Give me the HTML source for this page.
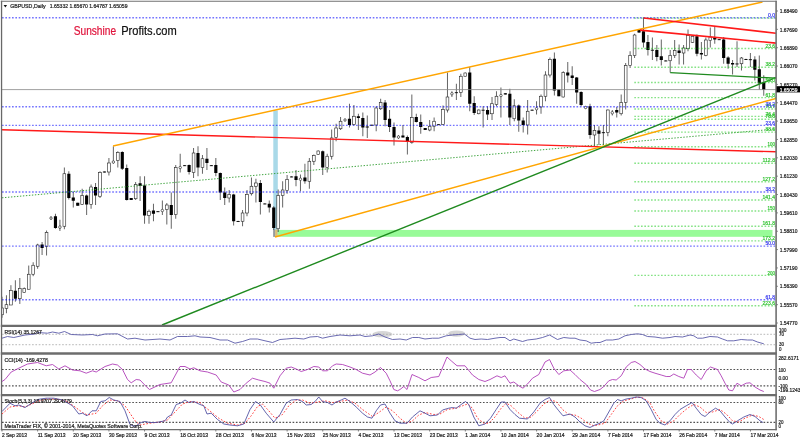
<!DOCTYPE html><html><head><meta charset="utf-8"><title>GBPUSD Daily</title><style>html,body{margin:0;padding:0;background:#fff;overflow:hidden}body{width:800px;height:440px}</style></head><body><svg width="800" height="440" viewBox="0 0 800 440" style="display:block;will-change:transform;opacity:0.999;font-family:'Liberation Sans',sans-serif">
<defs><clipPath id="cm"><rect x="1.5" y="1.5" width="774.5" height="324.5"/></clipPath><clipPath id="c1"><rect x="1.5" y="327" width="774.5" height="26"/></clipPath><clipPath id="c2"><rect x="1.5" y="354" width="774.5" height="41"/></clipPath><clipPath id="c3"><rect x="1.5" y="396" width="774.5" height="33.5"/></clipPath></defs>
<rect width="800" height="440" fill="#fff"/>
<g clip-path="url(#cm)">
<rect x="277.4" y="229.9" width="495.1" height="6.9" fill="#98fb98"/>
<rect x="273.3" y="110.5" width="4.5" height="126.5" fill="#a9d9e8"/>
<rect x="273.2" y="229.6" width="2" height="7.2" fill="#9a9a9a"/>
<rect x="275.2" y="229.6" width="2.4" height="7.2" fill="#dcc070"/>
<line x1="2.00" x2="2.00" y1="296.75" y2="317.75" stroke="#222" stroke-width="0.7"/>
<rect x="0.62" y="308.00" width="2.75" height="6.75" fill="#fff" stroke="#222" stroke-width="0.6"/>
<line x1="6.45" x2="6.45" y1="295.25" y2="313.25" stroke="#222" stroke-width="0.7"/>
<rect x="5.08" y="304.70" width="2.75" height="3.60" fill="#fff" stroke="#222" stroke-width="0.6"/>
<line x1="10.91" x2="10.91" y1="285.20" y2="305.00" stroke="#222" stroke-width="0.7"/>
<rect x="9.53" y="290.45" width="2.75" height="14.55" fill="#fff" stroke="#222" stroke-width="0.6"/>
<line x1="15.36" x2="15.36" y1="280.25" y2="301.70" stroke="#222" stroke-width="0.7"/>
<rect x="13.79" y="290.75" width="3.15" height="7.95" fill="#000"/>
<line x1="19.82" x2="19.82" y1="278.00" y2="303.95" stroke="#222" stroke-width="0.7"/>
<rect x="18.44" y="288.50" width="2.75" height="10.20" fill="#fff" stroke="#222" stroke-width="0.6"/>
<line x1="24.27" x2="24.27" y1="287.45" y2="292.55" stroke="#222" stroke-width="0.7"/>
<rect x="22.90" y="288.50" width="2.75" height="4.05" fill="#fff" stroke="#222" stroke-width="0.6"/>
<line x1="28.73" x2="28.73" y1="265.55" y2="289.25" stroke="#222" stroke-width="0.7"/>
<rect x="27.35" y="274.25" width="2.75" height="15.00" fill="#fff" stroke="#222" stroke-width="0.6"/>
<line x1="33.18" x2="33.18" y1="262.25" y2="276.20" stroke="#222" stroke-width="0.7"/>
<rect x="31.81" y="265.25" width="2.75" height="9.00" fill="#fff" stroke="#222" stroke-width="0.6"/>
<line x1="37.64" x2="37.64" y1="243.75" y2="268.75" stroke="#222" stroke-width="0.7"/>
<rect x="36.26" y="245.00" width="2.75" height="21.25" fill="#fff" stroke="#222" stroke-width="0.6"/>
<line x1="42.09" x2="42.09" y1="242.00" y2="255.00" stroke="#222" stroke-width="0.7"/>
<rect x="40.52" y="244.50" width="3.15" height="3.50" fill="#000"/>
<line x1="46.55" x2="46.55" y1="230.50" y2="255.50" stroke="#222" stroke-width="0.7"/>
<rect x="45.17" y="232.50" width="2.75" height="13.75" fill="#fff" stroke="#222" stroke-width="0.6"/>
<line x1="51.00" x2="51.00" y1="216.25" y2="220.00" stroke="#222" stroke-width="0.7"/>
<ellipse cx="51.00" cy="218.12" rx="1.25" ry="1.12" fill="#fff" stroke="#222" stroke-width="0.65"/>
<line x1="55.46" x2="55.46" y1="213.75" y2="228.75" stroke="#222" stroke-width="0.7"/>
<rect x="53.88" y="216.25" width="3.15" height="11.75" fill="#000"/>
<line x1="59.91" x2="59.91" y1="219.75" y2="231.00" stroke="#222" stroke-width="0.7"/>
<ellipse cx="59.91" cy="227.12" rx="1.25" ry="1.38" fill="#fff" stroke="#222" stroke-width="0.65"/>
<line x1="64.37" x2="64.37" y1="167.50" y2="229.25" stroke="#222" stroke-width="0.7"/>
<rect x="62.99" y="173.75" width="2.75" height="52.50" fill="#fff" stroke="#222" stroke-width="0.6"/>
<line x1="68.82" x2="68.82" y1="171.25" y2="199.50" stroke="#222" stroke-width="0.7"/>
<rect x="67.25" y="173.75" width="3.15" height="24.25" fill="#000"/>
<line x1="73.28" x2="73.28" y1="192.00" y2="207.50" stroke="#222" stroke-width="0.7"/>
<rect x="71.70" y="197.50" width="3.15" height="3.25" fill="#000"/>
<line x1="77.73" x2="77.73" y1="202.75" y2="205.75" stroke="#222" stroke-width="0.7"/>
<rect x="76.15" y="202.75" width="3.15" height="3.00" fill="#000"/>
<line x1="82.18" x2="82.18" y1="188.75" y2="205.00" stroke="#222" stroke-width="0.7"/>
<rect x="80.81" y="195.50" width="2.75" height="9.00" fill="#fff" stroke="#222" stroke-width="0.6"/>
<line x1="86.64" x2="86.64" y1="194.50" y2="215.00" stroke="#222" stroke-width="0.7"/>
<rect x="85.06" y="195.50" width="3.15" height="9.00" fill="#000"/>
<line x1="91.09" x2="91.09" y1="184.50" y2="208.75" stroke="#222" stroke-width="0.7"/>
<rect x="89.72" y="187.00" width="2.75" height="17.50" fill="#fff" stroke="#222" stroke-width="0.6"/>
<line x1="95.55" x2="95.55" y1="183.00" y2="205.00" stroke="#222" stroke-width="0.7"/>
<rect x="93.97" y="187.00" width="3.15" height="8.50" fill="#000"/>
<line x1="100.00" x2="100.00" y1="171.25" y2="198.00" stroke="#222" stroke-width="0.7"/>
<rect x="98.63" y="172.50" width="2.75" height="23.75" fill="#fff" stroke="#222" stroke-width="0.6"/>
<line x1="104.46" x2="104.46" y1="171.50" y2="172.50" stroke="#222" stroke-width="0.7"/>
<rect x="102.88" y="171.50" width="3.15" height="1.00" fill="#000"/>
<line x1="108.91" x2="108.91" y1="158.00" y2="175.50" stroke="#222" stroke-width="0.7"/>
<rect x="107.54" y="163.00" width="2.75" height="9.00" fill="#fff" stroke="#222" stroke-width="0.6"/>
<line x1="113.37" x2="113.37" y1="146.25" y2="163.75" stroke="#222" stroke-width="0.7"/>
<ellipse cx="113.37" cy="162.00" rx="1.25" ry="1.25" fill="#fff" stroke="#222" stroke-width="0.65"/>
<line x1="117.82" x2="117.82" y1="151.25" y2="167.50" stroke="#222" stroke-width="0.7"/>
<rect x="116.45" y="152.50" width="2.75" height="8.00" fill="#fff" stroke="#222" stroke-width="0.6"/>
<line x1="122.28" x2="122.28" y1="151.25" y2="170.00" stroke="#222" stroke-width="0.7"/>
<rect x="120.70" y="152.00" width="3.15" height="16.75" fill="#000"/>
<line x1="126.73" x2="126.73" y1="164.50" y2="200.50" stroke="#222" stroke-width="0.7"/>
<rect x="125.16" y="168.00" width="3.15" height="32.00" fill="#000"/>
<line x1="131.19" x2="131.19" y1="198.00" y2="200.00" stroke="#222" stroke-width="0.7"/>
<rect x="129.61" y="198.00" width="3.15" height="2.00" fill="#000"/>
<line x1="135.64" x2="135.64" y1="182.00" y2="200.00" stroke="#222" stroke-width="0.7"/>
<rect x="134.27" y="184.50" width="2.75" height="14.25" fill="#fff" stroke="#222" stroke-width="0.6"/>
<line x1="140.10" x2="140.10" y1="176.25" y2="201.00" stroke="#222" stroke-width="0.7"/>
<rect x="138.52" y="183.25" width="3.15" height="2.75" fill="#000"/>
<line x1="144.55" x2="144.55" y1="176.25" y2="223.75" stroke="#222" stroke-width="0.7"/>
<rect x="142.98" y="185.50" width="3.15" height="30.00" fill="#000"/>
<line x1="149.01" x2="149.01" y1="209.50" y2="223.75" stroke="#222" stroke-width="0.7"/>
<rect x="147.63" y="211.25" width="2.75" height="4.25" fill="#fff" stroke="#222" stroke-width="0.6"/>
<line x1="153.46" x2="153.46" y1="203.75" y2="221.25" stroke="#222" stroke-width="0.7"/>
<rect x="151.88" y="210.50" width="3.15" height="3.25" fill="#000"/>
<line x1="157.91" x2="157.91" y1="211.25" y2="212.00" stroke="#222" stroke-width="0.7"/>
<rect x="156.34" y="211.25" width="3.15" height="0.90" fill="#000"/>
<line x1="162.37" x2="162.37" y1="200.50" y2="215.00" stroke="#222" stroke-width="0.7"/>
<ellipse cx="162.37" cy="210.50" rx="1.25" ry="1.25" fill="#fff" stroke="#222" stroke-width="0.65"/>
<line x1="166.82" x2="166.82" y1="203.00" y2="224.50" stroke="#222" stroke-width="0.7"/>
<rect x="165.45" y="205.00" width="2.75" height="4.50" fill="#fff" stroke="#222" stroke-width="0.6"/>
<line x1="171.28" x2="171.28" y1="192.50" y2="228.75" stroke="#222" stroke-width="0.7"/>
<rect x="169.70" y="205.00" width="3.15" height="10.00" fill="#000"/>
<line x1="175.73" x2="175.73" y1="165.00" y2="218.75" stroke="#222" stroke-width="0.7"/>
<rect x="174.36" y="167.50" width="2.75" height="47.00" fill="#fff" stroke="#222" stroke-width="0.6"/>
<line x1="180.19" x2="180.19" y1="153.75" y2="172.50" stroke="#222" stroke-width="0.7"/>
<ellipse cx="180.19" cy="167.50" rx="1.25" ry="1.25" fill="#fff" stroke="#222" stroke-width="0.65"/>
<line x1="184.64" x2="184.64" y1="165.00" y2="166.00" stroke="#222" stroke-width="0.7"/>
<rect x="183.07" y="165.25" width="3.15" height="0.90" fill="#000"/>
<line x1="189.10" x2="189.10" y1="164.50" y2="174.50" stroke="#222" stroke-width="0.7"/>
<rect x="187.52" y="165.00" width="3.15" height="7.00" fill="#000"/>
<line x1="193.55" x2="193.55" y1="148.00" y2="178.00" stroke="#222" stroke-width="0.7"/>
<rect x="192.18" y="153.00" width="2.75" height="19.50" fill="#fff" stroke="#222" stroke-width="0.6"/>
<line x1="198.01" x2="198.01" y1="146.25" y2="176.25" stroke="#222" stroke-width="0.7"/>
<rect x="196.43" y="153.00" width="3.15" height="14.50" fill="#000"/>
<line x1="202.46" x2="202.46" y1="155.00" y2="173.75" stroke="#222" stroke-width="0.7"/>
<rect x="201.09" y="158.75" width="2.75" height="8.75" fill="#fff" stroke="#222" stroke-width="0.6"/>
<line x1="206.92" x2="206.92" y1="148.00" y2="170.00" stroke="#222" stroke-width="0.7"/>
<rect x="205.34" y="158.75" width="3.15" height="4.25" fill="#000"/>
<line x1="211.37" x2="211.37" y1="165.00" y2="166.00" stroke="#222" stroke-width="0.7"/>
<rect x="209.80" y="165.25" width="3.15" height="0.90" fill="#000"/>
<line x1="215.83" x2="215.83" y1="158.00" y2="176.25" stroke="#222" stroke-width="0.7"/>
<rect x="214.25" y="165.00" width="3.15" height="8.00" fill="#000"/>
<line x1="220.28" x2="220.28" y1="172.50" y2="200.00" stroke="#222" stroke-width="0.7"/>
<rect x="218.71" y="173.00" width="3.15" height="19.50" fill="#000"/>
<line x1="224.73" x2="224.73" y1="187.50" y2="205.00" stroke="#222" stroke-width="0.7"/>
<rect x="223.16" y="192.50" width="3.15" height="5.50" fill="#000"/>
<line x1="229.19" x2="229.19" y1="190.00" y2="202.50" stroke="#222" stroke-width="0.7"/>
<rect x="227.81" y="194.50" width="2.75" height="3.50" fill="#fff" stroke="#222" stroke-width="0.6"/>
<line x1="233.64" x2="233.64" y1="193.75" y2="225.50" stroke="#222" stroke-width="0.7"/>
<rect x="232.07" y="194.50" width="3.15" height="26.75" fill="#000"/>
<line x1="238.10" x2="238.10" y1="220.75" y2="221.75" stroke="#222" stroke-width="0.7"/>
<rect x="236.52" y="221.00" width="3.15" height="0.90" fill="#000"/>
<line x1="242.55" x2="242.55" y1="210.00" y2="226.25" stroke="#222" stroke-width="0.7"/>
<rect x="241.18" y="213.00" width="2.75" height="8.25" fill="#fff" stroke="#222" stroke-width="0.6"/>
<line x1="247.01" x2="247.01" y1="190.00" y2="216.25" stroke="#222" stroke-width="0.7"/>
<rect x="245.63" y="194.50" width="2.75" height="18.50" fill="#fff" stroke="#222" stroke-width="0.6"/>
<line x1="251.46" x2="251.46" y1="177.50" y2="195.50" stroke="#222" stroke-width="0.7"/>
<rect x="250.09" y="186.25" width="2.75" height="7.50" fill="#fff" stroke="#222" stroke-width="0.6"/>
<line x1="255.92" x2="255.92" y1="178.75" y2="202.50" stroke="#222" stroke-width="0.7"/>
<rect x="254.54" y="183.00" width="2.75" height="3.25" fill="#fff" stroke="#222" stroke-width="0.6"/>
<line x1="260.37" x2="260.37" y1="180.00" y2="214.50" stroke="#222" stroke-width="0.7"/>
<rect x="258.80" y="183.00" width="3.15" height="19.00" fill="#000"/>
<line x1="264.83" x2="264.83" y1="203.25" y2="204.25" stroke="#222" stroke-width="0.7"/>
<rect x="263.25" y="203.50" width="3.15" height="0.90" fill="#000"/>
<line x1="269.28" x2="269.28" y1="200.50" y2="212.50" stroke="#222" stroke-width="0.7"/>
<rect x="267.71" y="203.75" width="3.15" height="3.75" fill="#000"/>
<line x1="273.74" x2="273.74" y1="206.25" y2="230.00" stroke="#222" stroke-width="0.7"/>
<rect x="272.16" y="207.50" width="3.15" height="20.50" fill="#000"/>
<line x1="278.19" x2="278.19" y1="189.50" y2="232.00" stroke="#222" stroke-width="0.7"/>
<rect x="276.82" y="195.50" width="2.75" height="33.25" fill="#fff" stroke="#222" stroke-width="0.6"/>
<line x1="282.65" x2="282.65" y1="181.25" y2="207.50" stroke="#222" stroke-width="0.7"/>
<rect x="281.27" y="190.00" width="2.75" height="5.50" fill="#fff" stroke="#222" stroke-width="0.6"/>
<line x1="287.10" x2="287.10" y1="175.00" y2="193.75" stroke="#222" stroke-width="0.7"/>
<rect x="285.73" y="179.50" width="2.75" height="11.00" fill="#fff" stroke="#222" stroke-width="0.6"/>
<line x1="291.56" x2="291.56" y1="176.25" y2="177.25" stroke="#222" stroke-width="0.7"/>
<rect x="289.98" y="176.50" width="3.15" height="0.90" fill="#000"/>
<line x1="296.01" x2="296.01" y1="170.00" y2="186.25" stroke="#222" stroke-width="0.7"/>
<rect x="294.44" y="176.25" width="3.15" height="3.75" fill="#000"/>
<line x1="300.46" x2="300.46" y1="174.50" y2="191.25" stroke="#222" stroke-width="0.7"/>
<ellipse cx="300.46" cy="179.25" rx="1.25" ry="1.25" fill="#fff" stroke="#222" stroke-width="0.65"/>
<line x1="304.92" x2="304.92" y1="163.75" y2="183.75" stroke="#222" stroke-width="0.7"/>
<rect x="303.34" y="177.50" width="3.15" height="3.75" fill="#000"/>
<line x1="309.37" x2="309.37" y1="158.00" y2="188.75" stroke="#222" stroke-width="0.7"/>
<rect x="308.00" y="161.25" width="2.75" height="20.00" fill="#fff" stroke="#222" stroke-width="0.6"/>
<line x1="313.83" x2="313.83" y1="154.50" y2="165.00" stroke="#222" stroke-width="0.7"/>
<rect x="312.45" y="155.50" width="2.75" height="5.75" fill="#fff" stroke="#222" stroke-width="0.6"/>
<line x1="318.28" x2="318.28" y1="150.50" y2="154.75" stroke="#222" stroke-width="0.7"/>
<rect x="316.91" y="151.00" width="2.75" height="3.50" fill="#fff" stroke="#222" stroke-width="0.6"/>
<line x1="322.74" x2="322.74" y1="150.50" y2="175.00" stroke="#222" stroke-width="0.7"/>
<rect x="321.16" y="151.25" width="3.15" height="16.25" fill="#000"/>
<line x1="327.19" x2="327.19" y1="153.75" y2="172.50" stroke="#222" stroke-width="0.7"/>
<rect x="325.82" y="156.25" width="2.75" height="11.25" fill="#fff" stroke="#222" stroke-width="0.6"/>
<line x1="331.65" x2="331.65" y1="129.50" y2="159.50" stroke="#222" stroke-width="0.7"/>
<rect x="330.27" y="138.00" width="2.75" height="18.25" fill="#fff" stroke="#222" stroke-width="0.6"/>
<line x1="336.10" x2="336.10" y1="123.75" y2="141.25" stroke="#222" stroke-width="0.7"/>
<rect x="334.73" y="128.00" width="2.75" height="9.50" fill="#fff" stroke="#222" stroke-width="0.6"/>
<line x1="340.56" x2="340.56" y1="117.00" y2="130.00" stroke="#222" stroke-width="0.7"/>
<rect x="339.18" y="121.25" width="2.75" height="7.50" fill="#fff" stroke="#222" stroke-width="0.6"/>
<line x1="345.01" x2="345.01" y1="118.50" y2="121.50" stroke="#222" stroke-width="0.7"/>
<ellipse cx="345.01" cy="120.00" rx="1.25" ry="1.10" fill="#fff" stroke="#222" stroke-width="0.65"/>
<line x1="349.47" x2="349.47" y1="103.75" y2="127.50" stroke="#222" stroke-width="0.7"/>
<rect x="347.89" y="118.75" width="3.15" height="6.25" fill="#000"/>
<line x1="353.92" x2="353.92" y1="105.00" y2="125.50" stroke="#222" stroke-width="0.7"/>
<rect x="352.55" y="116.25" width="2.75" height="8.25" fill="#fff" stroke="#222" stroke-width="0.6"/>
<line x1="358.38" x2="358.38" y1="113.75" y2="130.00" stroke="#222" stroke-width="0.7"/>
<rect x="356.80" y="116.25" width="3.15" height="1.75" fill="#000"/>
<line x1="362.83" x2="362.83" y1="112.50" y2="136.25" stroke="#222" stroke-width="0.7"/>
<rect x="361.26" y="118.00" width="3.15" height="9.50" fill="#000"/>
<line x1="367.29" x2="367.29" y1="115.50" y2="138.00" stroke="#222" stroke-width="0.7"/>
<rect x="365.71" y="126.50" width="3.15" height="1.00" fill="#000"/>
<line x1="371.74" x2="371.74" y1="124.75" y2="125.50" stroke="#222" stroke-width="0.7"/>
<rect x="370.17" y="124.75" width="3.15" height="0.90" fill="#000"/>
<line x1="376.19" x2="376.19" y1="106.25" y2="131.25" stroke="#222" stroke-width="0.7"/>
<rect x="374.82" y="108.00" width="2.75" height="17.00" fill="#fff" stroke="#222" stroke-width="0.6"/>
<line x1="380.65" x2="380.65" y1="98.75" y2="110.00" stroke="#222" stroke-width="0.7"/>
<rect x="379.27" y="102.50" width="2.75" height="6.25" fill="#fff" stroke="#222" stroke-width="0.6"/>
<line x1="385.10" x2="385.10" y1="100.00" y2="126.25" stroke="#222" stroke-width="0.7"/>
<rect x="383.53" y="102.50" width="3.15" height="17.50" fill="#000"/>
<line x1="389.56" x2="389.56" y1="110.00" y2="132.00" stroke="#222" stroke-width="0.7"/>
<rect x="387.98" y="118.75" width="3.15" height="8.25" fill="#000"/>
<line x1="394.01" x2="394.01" y1="122.50" y2="145.50" stroke="#222" stroke-width="0.7"/>
<rect x="392.44" y="127.00" width="3.15" height="10.50" fill="#000"/>
<line x1="398.47" x2="398.47" y1="135.00" y2="139.00" stroke="#222" stroke-width="0.7"/>
<ellipse cx="398.47" cy="137.00" rx="1.25" ry="1.25" fill="#fff" stroke="#222" stroke-width="0.65"/>
<line x1="402.92" x2="402.92" y1="125.00" y2="137.50" stroke="#222" stroke-width="0.7"/>
<rect x="401.35" y="135.50" width="3.15" height="2.00" fill="#000"/>
<line x1="407.38" x2="407.38" y1="135.50" y2="154.50" stroke="#222" stroke-width="0.7"/>
<rect x="405.80" y="137.00" width="3.15" height="5.00" fill="#000"/>
<line x1="411.83" x2="411.83" y1="94.50" y2="143.75" stroke="#222" stroke-width="0.7"/>
<rect x="410.46" y="117.50" width="2.75" height="25.00" fill="#fff" stroke="#222" stroke-width="0.6"/>
<line x1="416.29" x2="416.29" y1="113.75" y2="122.50" stroke="#222" stroke-width="0.7"/>
<rect x="414.71" y="117.00" width="3.15" height="5.00" fill="#000"/>
<line x1="420.74" x2="420.74" y1="114.50" y2="133.75" stroke="#222" stroke-width="0.7"/>
<rect x="419.17" y="122.00" width="3.15" height="5.00" fill="#000"/>
<line x1="425.20" x2="425.20" y1="128.00" y2="130.00" stroke="#222" stroke-width="0.7"/>
<rect x="423.62" y="128.00" width="3.15" height="2.00" fill="#000"/>
<line x1="429.65" x2="429.65" y1="120.00" y2="131.25" stroke="#222" stroke-width="0.7"/>
<rect x="428.28" y="126.25" width="2.75" height="3.75" fill="#fff" stroke="#222" stroke-width="0.6"/>
<line x1="434.11" x2="434.11" y1="117.50" y2="131.25" stroke="#222" stroke-width="0.7"/>
<rect x="432.73" y="121.25" width="2.75" height="5.00" fill="#fff" stroke="#222" stroke-width="0.6"/>
<line x1="438.56" x2="438.56" y1="124.25" y2="125.00" stroke="#222" stroke-width="0.7"/>
<rect x="436.99" y="124.25" width="3.15" height="0.90" fill="#000"/>
<line x1="443.02" x2="443.02" y1="105.50" y2="125.00" stroke="#222" stroke-width="0.7"/>
<rect x="441.64" y="109.50" width="2.75" height="15.00" fill="#fff" stroke="#222" stroke-width="0.6"/>
<line x1="447.47" x2="447.47" y1="72.50" y2="112.50" stroke="#222" stroke-width="0.7"/>
<rect x="446.09" y="97.00" width="2.75" height="13.00" fill="#fff" stroke="#222" stroke-width="0.6"/>
<line x1="451.92" x2="451.92" y1="91.25" y2="97.00" stroke="#222" stroke-width="0.7"/>
<ellipse cx="451.92" cy="93.75" rx="1.25" ry="1.25" fill="#fff" stroke="#222" stroke-width="0.65"/>
<line x1="456.38" x2="456.38" y1="83.75" y2="100.00" stroke="#222" stroke-width="0.7"/>
<rect x="454.80" y="92.25" width="3.15" height="0.90" fill="#000"/>
<line x1="460.83" x2="460.83" y1="73.75" y2="97.00" stroke="#222" stroke-width="0.7"/>
<rect x="459.46" y="76.25" width="2.75" height="16.25" fill="#fff" stroke="#222" stroke-width="0.6"/>
<line x1="465.29" x2="465.29" y1="72.50" y2="76.25" stroke="#222" stroke-width="0.7"/>
<rect x="463.91" y="73.00" width="2.75" height="3.25" fill="#fff" stroke="#222" stroke-width="0.6"/>
<line x1="469.74" x2="469.74" y1="67.00" y2="111.25" stroke="#222" stroke-width="0.7"/>
<rect x="468.17" y="72.50" width="3.15" height="31.25" fill="#000"/>
<line x1="474.20" x2="474.20" y1="96.25" y2="115.00" stroke="#222" stroke-width="0.7"/>
<rect x="472.62" y="103.00" width="3.15" height="10.00" fill="#000"/>
<line x1="478.65" x2="478.65" y1="109.50" y2="114.25" stroke="#222" stroke-width="0.7"/>
<rect x="477.28" y="110.00" width="2.75" height="3.75" fill="#fff" stroke="#222" stroke-width="0.6"/>
<line x1="483.11" x2="483.11" y1="106.25" y2="127.50" stroke="#222" stroke-width="0.7"/>
<rect x="481.53" y="109.75" width="3.15" height="0.90" fill="#000"/>
<line x1="487.56" x2="487.56" y1="106.25" y2="120.00" stroke="#222" stroke-width="0.7"/>
<rect x="485.99" y="110.00" width="3.15" height="4.50" fill="#000"/>
<line x1="492.02" x2="492.02" y1="97.00" y2="120.00" stroke="#222" stroke-width="0.7"/>
<rect x="490.64" y="103.75" width="2.75" height="10.00" fill="#fff" stroke="#222" stroke-width="0.6"/>
<line x1="496.47" x2="496.47" y1="91.25" y2="106.25" stroke="#222" stroke-width="0.7"/>
<rect x="495.10" y="96.25" width="2.75" height="8.25" fill="#fff" stroke="#222" stroke-width="0.6"/>
<line x1="500.93" x2="500.93" y1="87.50" y2="117.50" stroke="#222" stroke-width="0.7"/>
<ellipse cx="500.93" cy="95.50" rx="1.25" ry="1.25" fill="#fff" stroke="#222" stroke-width="0.65"/>
<line x1="505.38" x2="505.38" y1="93.00" y2="94.50" stroke="#222" stroke-width="0.7"/>
<rect x="503.81" y="93.25" width="3.15" height="1.25" fill="#000"/>
<line x1="509.84" x2="509.84" y1="88.75" y2="125.00" stroke="#222" stroke-width="0.7"/>
<rect x="508.26" y="93.75" width="3.15" height="23.75" fill="#000"/>
<line x1="514.29" x2="514.29" y1="99.25" y2="121.25" stroke="#222" stroke-width="0.7"/>
<rect x="512.92" y="105.75" width="2.75" height="13.00" fill="#fff" stroke="#222" stroke-width="0.6"/>
<line x1="518.75" x2="518.75" y1="104.50" y2="131.75" stroke="#222" stroke-width="0.7"/>
<rect x="517.17" y="105.50" width="3.15" height="15.00" fill="#000"/>
<line x1="523.20" x2="523.20" y1="117.50" y2="132.50" stroke="#222" stroke-width="0.7"/>
<rect x="521.62" y="120.50" width="3.15" height="4.50" fill="#000"/>
<line x1="527.65" x2="527.65" y1="100.00" y2="134.50" stroke="#222" stroke-width="0.7"/>
<rect x="526.28" y="111.25" width="2.75" height="13.75" fill="#fff" stroke="#222" stroke-width="0.6"/>
<line x1="532.11" x2="532.11" y1="109.50" y2="110.50" stroke="#222" stroke-width="0.7"/>
<rect x="530.53" y="109.75" width="3.15" height="0.90" fill="#000"/>
<line x1="536.56" x2="536.56" y1="101.25" y2="114.50" stroke="#222" stroke-width="0.7"/>
<ellipse cx="536.56" cy="108.75" rx="1.25" ry="1.25" fill="#fff" stroke="#222" stroke-width="0.65"/>
<line x1="541.02" x2="541.02" y1="94.50" y2="113.75" stroke="#222" stroke-width="0.7"/>
<rect x="539.64" y="96.25" width="2.75" height="10.75" fill="#fff" stroke="#222" stroke-width="0.6"/>
<line x1="545.47" x2="545.47" y1="71.25" y2="101.25" stroke="#222" stroke-width="0.7"/>
<rect x="544.10" y="75.00" width="2.75" height="21.25" fill="#fff" stroke="#222" stroke-width="0.6"/>
<line x1="549.93" x2="549.93" y1="57.50" y2="77.50" stroke="#222" stroke-width="0.7"/>
<rect x="548.55" y="59.50" width="2.75" height="15.50" fill="#fff" stroke="#222" stroke-width="0.6"/>
<line x1="554.38" x2="554.38" y1="52.50" y2="95.50" stroke="#222" stroke-width="0.7"/>
<rect x="552.81" y="58.75" width="3.15" height="31.75" fill="#000"/>
<line x1="558.84" x2="558.84" y1="89.50" y2="96.25" stroke="#222" stroke-width="0.7"/>
<rect x="557.26" y="89.50" width="3.15" height="6.75" fill="#000"/>
<line x1="563.29" x2="563.29" y1="71.25" y2="97.50" stroke="#222" stroke-width="0.7"/>
<rect x="561.92" y="72.50" width="2.75" height="24.50" fill="#fff" stroke="#222" stroke-width="0.6"/>
<line x1="567.75" x2="567.75" y1="62.00" y2="82.50" stroke="#222" stroke-width="0.7"/>
<rect x="566.17" y="72.50" width="3.15" height="3.00" fill="#000"/>
<line x1="572.20" x2="572.20" y1="66.25" y2="85.00" stroke="#222" stroke-width="0.7"/>
<rect x="570.63" y="75.50" width="3.15" height="2.50" fill="#000"/>
<line x1="576.66" x2="576.66" y1="77.00" y2="103.75" stroke="#222" stroke-width="0.7"/>
<rect x="575.08" y="77.50" width="3.15" height="15.00" fill="#000"/>
<line x1="581.11" x2="581.11" y1="91.25" y2="106.25" stroke="#222" stroke-width="0.7"/>
<rect x="579.54" y="92.00" width="3.15" height="13.00" fill="#000"/>
<line x1="585.57" x2="585.57" y1="106.00" y2="109.00" stroke="#222" stroke-width="0.7"/>
<ellipse cx="585.57" cy="107.50" rx="1.25" ry="1.25" fill="#fff" stroke="#222" stroke-width="0.65"/>
<line x1="590.02" x2="590.02" y1="103.75" y2="138.75" stroke="#222" stroke-width="0.7"/>
<rect x="588.45" y="106.25" width="3.15" height="28.75" fill="#000"/>
<line x1="594.48" x2="594.48" y1="125.00" y2="146.25" stroke="#222" stroke-width="0.7"/>
<rect x="593.10" y="130.50" width="2.75" height="4.50" fill="#fff" stroke="#222" stroke-width="0.6"/>
<line x1="598.93" x2="598.93" y1="126.25" y2="145.00" stroke="#222" stroke-width="0.7"/>
<rect x="597.35" y="130.50" width="3.15" height="3.25" fill="#000"/>
<line x1="603.38" x2="603.38" y1="125.00" y2="145.00" stroke="#222" stroke-width="0.7"/>
<rect x="601.81" y="132.25" width="3.15" height="0.90" fill="#000"/>
<line x1="607.84" x2="607.84" y1="109.50" y2="136.25" stroke="#222" stroke-width="0.7"/>
<rect x="606.46" y="110.00" width="2.75" height="22.50" fill="#fff" stroke="#222" stroke-width="0.6"/>
<line x1="612.29" x2="612.29" y1="110.00" y2="115.50" stroke="#222" stroke-width="0.7"/>
<ellipse cx="612.29" cy="112.75" rx="1.25" ry="1.25" fill="#fff" stroke="#222" stroke-width="0.65"/>
<line x1="616.75" x2="616.75" y1="107.00" y2="117.50" stroke="#222" stroke-width="0.7"/>
<rect x="615.17" y="110.00" width="3.15" height="2.50" fill="#000"/>
<line x1="621.20" x2="621.20" y1="94.50" y2="115.50" stroke="#222" stroke-width="0.7"/>
<rect x="619.83" y="102.50" width="2.75" height="11.25" fill="#fff" stroke="#222" stroke-width="0.6"/>
<line x1="625.66" x2="625.66" y1="63.00" y2="109.50" stroke="#222" stroke-width="0.7"/>
<rect x="624.28" y="65.50" width="2.75" height="37.00" fill="#fff" stroke="#222" stroke-width="0.6"/>
<line x1="630.11" x2="630.11" y1="51.25" y2="68.00" stroke="#222" stroke-width="0.7"/>
<rect x="628.74" y="55.50" width="2.75" height="10.00" fill="#fff" stroke="#222" stroke-width="0.6"/>
<line x1="634.57" x2="634.57" y1="33.75" y2="58.00" stroke="#222" stroke-width="0.7"/>
<rect x="633.19" y="35.00" width="2.75" height="20.50" fill="#fff" stroke="#222" stroke-width="0.6"/>
<line x1="639.02" x2="639.02" y1="29.50" y2="33.00" stroke="#222" stroke-width="0.7"/>
<rect x="637.45" y="30.00" width="3.15" height="2.50" fill="#000"/>
<line x1="643.48" x2="643.48" y1="17.50" y2="47.50" stroke="#222" stroke-width="0.7"/>
<rect x="641.90" y="31.25" width="3.15" height="11.25" fill="#000"/>
<line x1="647.93" x2="647.93" y1="35.00" y2="55.50" stroke="#222" stroke-width="0.7"/>
<rect x="646.36" y="42.00" width="3.15" height="8.00" fill="#000"/>
<line x1="652.39" x2="652.39" y1="37.50" y2="60.00" stroke="#222" stroke-width="0.7"/>
<rect x="650.81" y="49.75" width="3.15" height="0.90" fill="#000"/>
<line x1="656.84" x2="656.84" y1="45.00" y2="61.25" stroke="#222" stroke-width="0.7"/>
<rect x="655.27" y="50.00" width="3.15" height="7.00" fill="#000"/>
<line x1="661.30" x2="661.30" y1="39.50" y2="65.50" stroke="#222" stroke-width="0.7"/>
<rect x="659.72" y="56.25" width="3.15" height="3.75" fill="#000"/>
<line x1="665.75" x2="665.75" y1="60.25" y2="61.25" stroke="#222" stroke-width="0.7"/>
<rect x="664.18" y="60.50" width="3.15" height="0.90" fill="#000"/>
<line x1="670.20" x2="670.20" y1="50.00" y2="72.50" stroke="#222" stroke-width="0.7"/>
<rect x="668.83" y="55.50" width="2.75" height="5.25" fill="#fff" stroke="#222" stroke-width="0.6"/>
<line x1="674.66" x2="674.66" y1="40.00" y2="58.00" stroke="#222" stroke-width="0.7"/>
<rect x="673.28" y="50.50" width="2.75" height="5.00" fill="#fff" stroke="#222" stroke-width="0.6"/>
<line x1="679.11" x2="679.11" y1="44.50" y2="64.50" stroke="#222" stroke-width="0.7"/>
<rect x="677.54" y="50.50" width="3.15" height="2.50" fill="#000"/>
<line x1="683.57" x2="683.57" y1="45.00" y2="64.50" stroke="#222" stroke-width="0.7"/>
<rect x="682.19" y="48.00" width="2.75" height="5.00" fill="#fff" stroke="#222" stroke-width="0.6"/>
<line x1="688.02" x2="688.02" y1="29.50" y2="51.25" stroke="#222" stroke-width="0.7"/>
<rect x="686.65" y="35.50" width="2.75" height="13.25" fill="#fff" stroke="#222" stroke-width="0.6"/>
<line x1="692.48" x2="692.48" y1="35.75" y2="43.00" stroke="#222" stroke-width="0.7"/>
<rect x="691.10" y="36.25" width="2.75" height="6.25" fill="#fff" stroke="#222" stroke-width="0.6"/>
<line x1="696.93" x2="696.93" y1="34.50" y2="56.25" stroke="#222" stroke-width="0.7"/>
<rect x="695.36" y="36.25" width="3.15" height="17.50" fill="#000"/>
<line x1="701.39" x2="701.39" y1="42.00" y2="59.50" stroke="#222" stroke-width="0.7"/>
<rect x="699.81" y="53.00" width="3.15" height="1.50" fill="#000"/>
<line x1="705.84" x2="705.84" y1="37.50" y2="56.25" stroke="#222" stroke-width="0.7"/>
<rect x="704.47" y="40.00" width="2.75" height="15.50" fill="#fff" stroke="#222" stroke-width="0.6"/>
<line x1="710.30" x2="710.30" y1="27.50" y2="47.50" stroke="#222" stroke-width="0.7"/>
<rect x="708.92" y="37.00" width="2.75" height="3.50" fill="#fff" stroke="#222" stroke-width="0.6"/>
<line x1="714.75" x2="714.75" y1="26.25" y2="43.75" stroke="#222" stroke-width="0.7"/>
<rect x="713.18" y="37.50" width="3.15" height="2.00" fill="#000"/>
<line x1="719.21" x2="719.21" y1="39.00" y2="40.00" stroke="#222" stroke-width="0.7"/>
<rect x="717.63" y="39.25" width="3.15" height="0.90" fill="#000"/>
<line x1="723.66" x2="723.66" y1="37.00" y2="63.75" stroke="#222" stroke-width="0.7"/>
<rect x="722.09" y="39.50" width="3.15" height="18.50" fill="#000"/>
<line x1="728.12" x2="728.12" y1="56.25" y2="68.75" stroke="#222" stroke-width="0.7"/>
<rect x="726.54" y="57.50" width="3.15" height="6.25" fill="#000"/>
<line x1="732.57" x2="732.57" y1="60.00" y2="74.50" stroke="#222" stroke-width="0.7"/>
<rect x="731.00" y="63.00" width="3.15" height="1.50" fill="#000"/>
<line x1="737.03" x2="737.03" y1="41.25" y2="67.00" stroke="#222" stroke-width="0.7"/>
<rect x="735.45" y="63.50" width="3.15" height="0.90" fill="#000"/>
<line x1="741.48" x2="741.48" y1="57.00" y2="70.50" stroke="#222" stroke-width="0.7"/>
<rect x="740.11" y="58.00" width="2.75" height="5.75" fill="#fff" stroke="#222" stroke-width="0.6"/>
<line x1="745.93" x2="745.93" y1="58.75" y2="59.75" stroke="#222" stroke-width="0.7"/>
<rect x="744.36" y="59.00" width="3.15" height="0.90" fill="#000"/>
<line x1="750.39" x2="750.39" y1="53.00" y2="67.00" stroke="#222" stroke-width="0.7"/>
<rect x="748.81" y="59.25" width="3.15" height="0.90" fill="#000"/>
<line x1="754.84" x2="754.84" y1="56.25" y2="80.50" stroke="#222" stroke-width="0.7"/>
<rect x="753.27" y="59.50" width="3.15" height="10.25" fill="#000"/>
<line x1="759.30" x2="759.30" y1="55.50" y2="89.50" stroke="#222" stroke-width="0.7"/>
<rect x="757.72" y="69.25" width="3.15" height="14.25" fill="#000"/>
<line x1="763.75" x2="763.75" y1="75.25" y2="95.75" stroke="#222" stroke-width="0.7"/>
<rect x="762.18" y="82.75" width="3.15" height="7.00" fill="#000"/>
<line x1="2" x2="776" y1="17.7" y2="17.7" stroke="#0000ff" stroke-opacity="0.55" stroke-width="1.4" stroke-dasharray="1.66 1.68"/>
<line x1="2" x2="776" y1="106.7" y2="106.7" stroke="#0000ff" stroke-opacity="0.55" stroke-width="1.4" stroke-dasharray="1.66 1.68"/>
<line x1="2" x2="776" y1="125.4" y2="125.4" stroke="#0000ff" stroke-opacity="0.55" stroke-width="1.4" stroke-dasharray="1.66 1.68"/>
<line x1="2" x2="776" y1="192" y2="192" stroke="#0000ff" stroke-opacity="0.55" stroke-width="1.4" stroke-dasharray="1.66 1.68"/>
<line x1="2" x2="776" y1="246.1" y2="246.1" stroke="#0000ff" stroke-opacity="0.55" stroke-width="1.4" stroke-dasharray="1.66 1.68"/>
<line x1="2" x2="776" y1="299.7" y2="299.7" stroke="#0000ff" stroke-opacity="0.55" stroke-width="1.4" stroke-dasharray="1.66 1.68"/>
<line x1="634.3" x2="776" y1="18.10" y2="18.10" stroke="#22cc22" stroke-opacity="0.55" stroke-width="1.4" stroke-dasharray="1.66 1.68"/>
<line x1="634.3" x2="776" y1="48.46" y2="48.46" stroke="#22cc22" stroke-opacity="0.55" stroke-width="1.4" stroke-dasharray="1.66 1.68"/>
<line x1="634.3" x2="776" y1="67.24" y2="67.24" stroke="#22cc22" stroke-opacity="0.55" stroke-width="1.4" stroke-dasharray="1.66 1.68"/>
<line x1="634.3" x2="776" y1="82.43" y2="82.43" stroke="#22cc22" stroke-opacity="0.55" stroke-width="1.4" stroke-dasharray="1.66 1.68"/>
<line x1="634.3" x2="776" y1="97.61" y2="97.61" stroke="#22cc22" stroke-opacity="0.55" stroke-width="1.4" stroke-dasharray="1.66 1.68"/>
<line x1="634.3" x2="776" y1="109.06" y2="109.06" stroke="#22cc22" stroke-opacity="0.55" stroke-width="1.4" stroke-dasharray="1.66 1.68"/>
<line x1="634.3" x2="776" y1="116.39" y2="116.39" stroke="#22cc22" stroke-opacity="0.55" stroke-width="1.4" stroke-dasharray="1.66 1.68"/>
<line x1="634.3" x2="776" y1="119.22" y2="119.22" stroke="#22cc22" stroke-opacity="0.55" stroke-width="1.4" stroke-dasharray="1.66 1.68"/>
<line x1="634.3" x2="776" y1="132.08" y2="132.08" stroke="#22cc22" stroke-opacity="0.55" stroke-width="1.4" stroke-dasharray="1.66 1.68"/>
<line x1="634.3" x2="776" y1="146.75" y2="146.75" stroke="#22cc22" stroke-opacity="0.55" stroke-width="1.4" stroke-dasharray="1.66 1.68"/>
<line x1="634.3" x2="776" y1="163.22" y2="163.22" stroke="#22cc22" stroke-opacity="0.55" stroke-width="1.4" stroke-dasharray="1.66 1.68"/>
<line x1="634.3" x2="776" y1="181.74" y2="181.74" stroke="#22cc22" stroke-opacity="0.55" stroke-width="1.4" stroke-dasharray="1.66 1.68"/>
<line x1="634.3" x2="776" y1="200.01" y2="200.01" stroke="#22cc22" stroke-opacity="0.55" stroke-width="1.4" stroke-dasharray="1.66 1.68"/>
<line x1="634.3" x2="776" y1="211.07" y2="211.07" stroke="#22cc22" stroke-opacity="0.55" stroke-width="1.4" stroke-dasharray="1.66 1.68"/>
<line x1="634.3" x2="776" y1="226.26" y2="226.26" stroke="#22cc22" stroke-opacity="0.55" stroke-width="1.4" stroke-dasharray="1.66 1.68"/>
<line x1="634.3" x2="776" y1="240.92" y2="240.92" stroke="#22cc22" stroke-opacity="0.55" stroke-width="1.4" stroke-dasharray="1.66 1.68"/>
<line x1="634.3" x2="776" y1="275.40" y2="275.40" stroke="#22cc22" stroke-opacity="0.55" stroke-width="1.4" stroke-dasharray="1.66 1.68"/>
<line x1="634.3" x2="776" y1="305.76" y2="305.76" stroke="#22cc22" stroke-opacity="0.55" stroke-width="1.4" stroke-dasharray="1.66 1.68"/>
<line x1="2" x2="776" y1="89.6" y2="89.6" stroke="#888" stroke-width="0.8"/>
<line x1="2" y1="197.8" x2="776" y2="129.0" stroke="#2a9a2a" stroke-width="0.9" stroke-dasharray="1.4 1.6"/>
<line x1="2" y1="129.7" x2="776" y2="151.8" stroke="#ff1a1a" stroke-width="1.4"/>
<line x1="113" y1="146" x2="762.5" y2="2" stroke="#ffa500" stroke-width="1.4"/>
<line x1="275" y1="237" x2="776" y2="98.4" stroke="#ffa500" stroke-width="1.4"/>
<line x1="162" y1="325" x2="776" y2="77.5" stroke="#1f8a1f" stroke-width="1.4"/>
<line x1="670.2" y1="72.6" x2="776" y2="78.2" stroke="#1f8a1f" stroke-width="1.3"/>
<line x1="643.7" y1="18.0" x2="776" y2="33.2" stroke="#ff1a1a" stroke-width="1.6"/>
<line x1="640" y1="30.1" x2="776" y2="43.1" stroke="#ff1a1a" stroke-width="1.6"/>
</g>
<text x="775" y="47.6614" font-size="5.39" fill="#35c435" stroke="#35c435" stroke-width="0.22" text-anchor="end" textLength="9.5" lengthAdjust="spacingAndGlyphs">23.6</text>
<text x="775" y="66.44430000000001" font-size="5.39" fill="#35c435" stroke="#35c435" stroke-width="0.22" text-anchor="end" textLength="9.5" lengthAdjust="spacingAndGlyphs">38.2</text>
<text x="775" y="81.62500000000001" font-size="5.39" fill="#35c435" stroke="#35c435" stroke-width="0.22" text-anchor="end" textLength="9.5" lengthAdjust="spacingAndGlyphs">50.0</text>
<text x="775" y="96.80569999999999" font-size="5.39" fill="#35c435" stroke="#35c435" stroke-width="0.22" text-anchor="end" textLength="9.5" lengthAdjust="spacingAndGlyphs">61.8</text>
<text x="775" y="108.25555000000001" font-size="5.39" fill="#35c435" stroke="#35c435" stroke-width="0.22" text-anchor="end" textLength="9.5" lengthAdjust="spacingAndGlyphs">70.7</text>
<text x="775" y="115.5886" font-size="5.39" fill="#35c435" stroke="#35c435" stroke-width="0.22" text-anchor="end" textLength="9.5" lengthAdjust="spacingAndGlyphs">76.4</text>
<text x="775" y="118.4189" font-size="5.39" fill="#35c435" stroke="#35c435" stroke-width="0.22" text-anchor="end" textLength="9.5" lengthAdjust="spacingAndGlyphs">78.6</text>
<text x="775" y="131.2839" font-size="5.39" fill="#35c435" stroke="#35c435" stroke-width="0.22" text-anchor="end" textLength="9.5" lengthAdjust="spacingAndGlyphs">88.6</text>
<text x="775" y="145.95" font-size="5.39" fill="#35c435" stroke="#35c435" stroke-width="0.22" text-anchor="end" textLength="7.5" lengthAdjust="spacingAndGlyphs">100</text>
<text x="775" y="162.41719999999998" font-size="5.39" fill="#35c435" stroke="#35c435" stroke-width="0.22" text-anchor="end" textLength="12.5" lengthAdjust="spacingAndGlyphs">112.8</text>
<text x="775" y="180.94279999999998" font-size="5.39" fill="#35c435" stroke="#35c435" stroke-width="0.22" text-anchor="end" textLength="12.5" lengthAdjust="spacingAndGlyphs">127.2</text>
<text x="775" y="199.2111" font-size="5.39" fill="#35c435" stroke="#35c435" stroke-width="0.22" text-anchor="end" textLength="12.5" lengthAdjust="spacingAndGlyphs">141.4</text>
<text x="775" y="210.27499999999998" font-size="5.39" fill="#35c435" stroke="#35c435" stroke-width="0.22" text-anchor="end" textLength="7.5" lengthAdjust="spacingAndGlyphs">150</text>
<text x="775" y="225.4557" font-size="5.39" fill="#35c435" stroke="#35c435" stroke-width="0.22" text-anchor="end" textLength="12.5" lengthAdjust="spacingAndGlyphs">161.8</text>
<text x="775" y="240.12179999999995" font-size="5.39" fill="#35c435" stroke="#35c435" stroke-width="0.22" text-anchor="end" textLength="12.5" lengthAdjust="spacingAndGlyphs">173.2</text>
<text x="775" y="274.6" font-size="5.39" fill="#35c435" stroke="#35c435" stroke-width="0.22" text-anchor="end" textLength="7.5" lengthAdjust="spacingAndGlyphs">200</text>
<text x="775" y="304.9614" font-size="5.39" fill="#35c435" stroke="#35c435" stroke-width="0.22" text-anchor="end" textLength="12.5" lengthAdjust="spacingAndGlyphs">223.6</text>
<text x="775" y="16.9" font-size="5.39" fill="#3a3aee" stroke="#3a3aee" stroke-width="0.22" text-anchor="end" textLength="7" lengthAdjust="spacingAndGlyphs">0.0</text>
<text x="775" y="105.9" font-size="5.39" fill="#3a3aee" stroke="#3a3aee" stroke-width="0.22" text-anchor="end" textLength="9.5" lengthAdjust="spacingAndGlyphs">38.2</text>
<text x="775" y="124.60000000000001" font-size="5.39" fill="#3a3aee" stroke="#3a3aee" stroke-width="0.22" text-anchor="end" textLength="9.5" lengthAdjust="spacingAndGlyphs">23.6</text>
<text x="775" y="191.2" font-size="5.39" fill="#3a3aee" stroke="#3a3aee" stroke-width="0.22" text-anchor="end" textLength="9.5" lengthAdjust="spacingAndGlyphs">38.2</text>
<text x="775" y="245.29999999999998" font-size="5.39" fill="#3a3aee" stroke="#3a3aee" stroke-width="0.22" text-anchor="end" textLength="9.5" lengthAdjust="spacingAndGlyphs">50.0</text>
<text x="775" y="298.9" font-size="5.39" fill="#3a3aee" stroke="#3a3aee" stroke-width="0.22" text-anchor="end" textLength="9.5" lengthAdjust="spacingAndGlyphs">61.8</text>
<line x1="1.55" x2="1.55" y1="0.8" y2="430.2" stroke="#686868" stroke-width="1.3"/>
<line x1="0.8" x2="776.7" y1="1.3" y2="1.3" stroke="#707070" stroke-width="1.1"/>
<line x1="776.1" x2="776.1" y1="0.8" y2="430.2" stroke="#707070" stroke-width="1.6"/>
<line x1="0.8" x2="776.7" y1="325.9" y2="325.9" stroke="#6c6c6c" stroke-width="2.3"/>
<line x1="0.8" x2="776.7" y1="353.5" y2="353.5" stroke="#6c6c6c" stroke-width="2.5"/>
<line x1="0.8" x2="776.7" y1="395.1" y2="395.1" stroke="#6c6c6c" stroke-width="2.4"/>
<line x1="0.8" x2="776.7" y1="429.6" y2="429.6" stroke="#6c6c6c" stroke-width="1.3"/>
<g clip-path="url(#c1)">
<ellipse cx="382.4" cy="334.2" rx="10" ry="3.1" fill="#d6d6d6"/>
<ellipse cx="456.6" cy="333.6" rx="8.5" ry="3.2" fill="#d6d6d6"/>
<line x1="2" x2="776" y1="334.4" y2="334.4" stroke="#a8a8a8" stroke-opacity="0.65" stroke-width="1.2" stroke-dasharray="1.66 1.68"/>
<line x1="2" x2="776" y1="344.6" y2="344.6" stroke="#a8a8a8" stroke-opacity="0.65" stroke-width="1.2" stroke-dasharray="1.66 1.68"/>
<polyline points="2.0,338.2 7.5,336.5 13.8,337.5 25.0,335.0 35.0,334.0 37.5,332.5 47.5,333.2 52.5,332.0 58.8,333.2 64.5,331.5 71.2,334.5 82.5,335.0 92.5,334.5 97.5,335.8 105.0,334.0 117.5,333.8 127.5,339.0 135.0,338.2 145.0,340.0 160.0,339.0 170.0,340.0 177.5,336.5 187.5,336.5 195.0,335.8 200.0,337.0 210.0,337.5 220.0,340.0 227.5,340.0 235.0,343.2 242.5,341.5 250.0,339.0 257.5,339.0 265.0,340.8 272.5,342.5 280.0,339.5 286.2,339.0 295.0,338.2 303.8,339.0 310.0,337.0 317.5,336.5 322.5,338.2 330.0,336.5 340.0,335.0 350.0,335.8 360.0,335.0 365.0,336.5 372.5,335.8 378.8,334.0 385.0,337.0 392.5,339.5 400.0,339.0 406.2,340.0 412.5,337.5 418.8,337.5 425.0,339.0 432.5,338.2 438.8,338.2 446.2,335.8 452.5,335.0 458.8,334.5 464.5,334.0 470.0,338.2 475.0,339.5 481.2,339.0 487.5,339.5 495.0,338.2 500.0,337.5 505.0,337.5 510.0,340.8 513.8,339.0 522.5,341.5 527.5,340.0 536.2,339.0 542.5,337.5 549.5,335.0 557.5,339.5 563.8,337.5 570.0,338.2 575.0,338.2 580.0,340.0 586.2,340.8 591.2,343.2 596.2,342.5 600.0,342.5 606.2,340.0 612.5,340.0 618.8,339.0 625.0,335.8 631.2,334.5 637.5,333.8 642.5,334.5 647.5,336.5 655.0,337.0 662.5,338.2 670.0,337.5 675.0,336.5 682.5,337.0 690.0,335.0 693.8,335.8 697.5,338.2 702.5,338.2 710.0,336.5 717.5,337.0 722.5,339.0 727.5,340.8 733.8,340.8 741.2,339.5 747.5,340.0 752.5,340.0 757.5,342.0 763.8,343.8" fill="none" stroke="#5a5aa8" stroke-width="0.9"/>
</g>
<g clip-path="url(#c2)">
<line x1="2" x2="776" y1="369.5" y2="369.5" stroke="#000" stroke-opacity="0.68" stroke-width="1.2" stroke-dasharray="1.66 1.68"/>
<line x1="2" x2="776" y1="385.8" y2="385.8" stroke="#000" stroke-opacity="0.68" stroke-width="1.2" stroke-dasharray="1.66 1.68"/>
<polyline points="2.0,381.5 5.0,379.5 11.2,372.0 18.8,368.2 27.5,364.0 37.5,362.5 46.2,365.8 52.5,364.5 58.8,369.0 65.0,365.8 72.5,370.0 80.0,370.8 86.2,373.2 92.5,370.8 96.2,372.0 105.0,366.5 112.5,364.0 117.5,365.0 122.5,369.5 127.5,379.5 131.2,382.8 136.2,379.5 140.0,380.0 146.2,386.5 149.5,389.5 160.0,384.5 171.2,382.8 180.0,366.5 185.0,366.5 190.0,369.0 193.8,367.8 200.0,370.8 207.5,372.0 216.2,375.0 221.2,382.0 228.8,385.0 233.8,392.0 240.0,389.5 246.2,383.2 252.5,378.2 258.8,380.0 265.0,381.5 270.0,383.2 273.8,388.2 280.0,375.8 286.2,368.2 291.2,367.0 296.2,369.0 301.2,371.5 307.5,369.5 313.8,366.5 318.8,367.0 322.5,370.8 327.5,370.8 332.5,365.8 336.2,364.0 342.5,364.5 350.0,367.0 356.2,369.5 362.5,373.2 370.0,375.0 375.0,372.0 380.5,367.5 386.2,373.2 390.0,380.8 393.8,389.5 397.5,390.8 400.0,389.5 403.8,386.5 407.0,389.5 412.0,374.5 418.8,377.5 425.0,380.8 431.2,377.5 438.8,376.5 447.0,357.0 451.2,360.8 457.0,365.8 465.0,365.8 472.5,375.0 478.8,379.5 485.0,381.5 490.0,379.5 497.0,375.8 501.2,377.5 505.0,375.8 510.0,383.2 513.8,382.0 518.8,385.8 523.0,388.2 527.5,384.0 532.5,378.2 538.8,374.5 545.0,362.0 549.5,359.5 553.8,368.2 558.8,374.5 563.8,370.8 570.0,370.0 575.0,374.5 580.0,379.5 586.2,384.5 590.5,390.0 594.5,391.5 600.0,389.5 603.8,386.5 608.8,380.8 612.5,379.5 616.2,380.0 621.2,375.8 626.2,367.0 631.2,362.5 635.0,361.5 640.0,364.5 645.0,369.0 650.0,371.5 655.0,373.2 661.2,375.0 666.2,376.5 670.0,376.5 673.8,374.0 678.8,376.5 683.8,378.2 687.5,369.5 691.2,369.5 696.2,375.0 701.2,379.5 706.2,370.8 710.5,367.0 713.8,368.2 717.5,369.5 721.2,375.8 725.0,383.2 728.8,390.0 732.5,390.8 737.0,383.2 741.2,385.8 746.2,383.2 750.0,382.8 755.0,387.0 760.0,390.0 763.8,391.5" fill="none" stroke="#b040b8" stroke-width="0.9"/>
</g>
<g clip-path="url(#c3)">
<line x1="2" x2="776" y1="402.5" y2="402.5" stroke="#000" stroke-opacity="0.68" stroke-width="1.2" stroke-dasharray="1.66 1.68"/>
<line x1="2" x2="776" y1="422.4" y2="422.4" stroke="#000" stroke-opacity="0.68" stroke-width="1.2" stroke-dasharray="1.66 1.68"/>
<polyline points="2.0,414.0 10.0,407.0 18.8,405.8 25.0,407.0 37.5,401.5 46.2,399.0 57.5,399.0 67.5,401.5 75.0,407.0 82.5,412.5 87.5,415.0 96.2,413.2 102.5,405.8 110.0,400.0 117.5,400.8 125.0,405.8 130.0,413.2 135.0,420.8 140.0,425.0 150.0,423.2 160.0,422.0 167.5,420.0 175.0,412.0 182.5,404.0 190.0,401.5 200.0,402.5 205.0,407.0 211.2,412.0 218.8,418.2 227.5,423.2 237.5,425.0 245.0,423.2 251.2,415.8 257.5,406.5 262.5,404.0 268.8,410.8 275.0,418.2 282.5,414.5 288.8,405.8 296.2,400.0 302.5,400.0 310.0,403.2 317.5,402.0 325.0,400.8 332.5,402.5 340.0,401.5 347.5,400.0 355.0,403.2 362.5,409.5 372.5,416.5 378.8,412.5 386.2,407.0 392.5,410.8 400.0,418.2 406.2,423.2 412.5,420.8 418.8,415.0 425.0,412.5 433.8,414.5 440.0,414.0 447.5,409.5 456.2,408.2 462.5,405.8 467.5,404.0 472.5,408.2 477.5,418.2 483.8,423.2 488.8,423.2 495.0,417.0 501.2,408.2 506.2,403.2 511.2,405.8 517.5,412.0 525.0,418.2 531.2,417.0 537.5,410.8 543.8,404.0 550.0,400.0 556.2,401.5 562.5,409.5 568.8,414.5 575.0,415.0 581.2,418.2 587.5,423.2 593.8,425.8 600.0,424.5 605.0,423.2 611.2,414.5 617.5,405.8 623.8,400.8 631.2,399.0 637.5,397.0 643.8,398.2 650.0,403.2 655.0,412.0 661.2,420.8 667.5,424.0 673.8,420.8 680.0,414.5 687.5,408.2 693.8,404.5 700.0,407.0 706.2,412.5 712.5,412.0 720.0,409.5 726.2,414.0 732.5,420.8 738.8,422.0 745.0,418.2 752.5,415.0 758.8,416.5 763.8,419.5" fill="none" stroke="#ff3a3a" stroke-width="0.95" stroke-dasharray="1.7 1.7"/>
<polyline points="2.0,411.5 10.0,403.2 15.0,405.8 18.8,405.0 25.0,407.5 37.5,399.5 46.2,398.2 53.8,398.2 62.5,400.0 72.5,405.8 78.8,414.0 82.5,413.2 87.0,415.8 92.0,410.8 96.2,410.8 100.8,401.5 105.0,400.8 109.2,397.5 113.8,400.0 120.0,401.5 125.0,410.8 130.0,424.5 135.0,426.5 141.2,422.5 145.0,421.5 150.0,422.5 156.2,422.5 165.0,420.8 167.5,417.0 171.2,415.0 176.2,404.5 180.5,403.2 185.0,400.0 188.8,402.5 193.8,401.5 200.0,404.5 203.8,405.8 207.0,414.0 211.2,413.2 217.5,419.5 223.8,424.0 230.0,425.0 237.5,425.8 243.8,424.0 250.0,409.5 255.5,401.5 260.0,404.5 266.2,413.2 273.8,422.0 280.0,414.5 286.2,403.2 291.2,400.0 297.5,399.5 302.5,401.5 306.2,405.0 311.2,404.5 315.0,401.5 318.8,397.0 322.5,401.5 327.5,402.5 332.0,405.0 336.2,402.0 341.2,400.0 345.0,398.2 350.0,401.5 356.2,407.0 362.5,413.2 367.5,417.0 372.0,418.2 376.2,410.8 380.5,405.0 385.0,404.0 390.0,413.2 395.0,420.8 400.0,423.2 407.0,423.2 412.5,417.0 420.0,410.8 425.0,413.2 430.0,415.8 437.5,415.0 442.5,410.0 448.8,408.2 452.5,407.5 456.2,408.2 461.2,404.5 465.5,401.5 468.8,404.5 473.8,417.0 478.8,425.8 485.0,424.0 490.5,418.2 496.2,409.5 501.2,402.0 505.0,402.0 510.0,409.5 515.0,414.5 519.5,418.2 527.5,419.0 533.8,412.0 540.0,403.2 545.0,399.5 549.5,397.5 553.8,404.5 558.8,410.8 563.0,415.8 570.0,414.0 575.0,417.0 580.0,422.0 585.0,425.8 590.0,427.5 595.0,425.0 600.0,423.2 603.8,420.8 608.8,412.0 613.8,403.2 617.5,399.5 621.2,400.8 626.2,399.0 631.2,398.2 636.2,397.0 641.2,397.5 646.2,400.8 651.2,409.5 656.2,419.5 660.0,423.2 665.0,425.0 670.0,420.8 675.0,414.5 680.0,409.5 686.2,405.8 692.0,402.5 696.2,408.2 701.2,414.5 705.0,416.5 710.0,412.0 715.5,408.2 720.0,410.8 725.0,417.0 730.0,422.5 732.5,424.0 737.5,420.8 743.8,417.0 750.0,414.5 755.0,416.5 760.0,420.8 763.0,422.5" fill="none" stroke="#4a4a9e" stroke-width="0.85"/>
</g>
<line x1="776" x2="778" y1="11.00" y2="11.00" stroke="#707070" stroke-width="0.8"/>
<text x="779.7" y="13.2" font-size="5.48" fill="#222" stroke="#222" stroke-width="0.22" text-anchor="start" textLength="17.8" lengthAdjust="spacingAndGlyphs">1.68490</text>
<line x1="776" x2="778" y1="29.35" y2="29.35" stroke="#707070" stroke-width="0.8"/>
<text x="779.7" y="31.553" font-size="5.48" fill="#222" stroke="#222" stroke-width="0.22" text-anchor="start" textLength="17.8" lengthAdjust="spacingAndGlyphs">1.67690</text>
<line x1="776" x2="778" y1="47.71" y2="47.71" stroke="#707070" stroke-width="0.8"/>
<text x="779.7" y="49.906000000000006" font-size="5.48" fill="#222" stroke="#222" stroke-width="0.22" text-anchor="start" textLength="17.8" lengthAdjust="spacingAndGlyphs">1.66890</text>
<line x1="776" x2="778" y1="66.06" y2="66.06" stroke="#707070" stroke-width="0.8"/>
<text x="779.7" y="68.259" font-size="5.48" fill="#222" stroke="#222" stroke-width="0.22" text-anchor="start" textLength="17.8" lengthAdjust="spacingAndGlyphs">1.66070</text>
<line x1="776" x2="778" y1="84.41" y2="84.41" stroke="#707070" stroke-width="0.8"/>
<text x="779.7" y="86.61200000000001" font-size="5.48" fill="#222" stroke="#222" stroke-width="0.22" text-anchor="start" textLength="17.8" lengthAdjust="spacingAndGlyphs">1.65270</text>
<line x1="776" x2="778" y1="102.77" y2="102.77" stroke="#707070" stroke-width="0.8"/>
<text x="779.7" y="104.96500000000002" font-size="5.48" fill="#222" stroke="#222" stroke-width="0.22" text-anchor="start" textLength="17.8" lengthAdjust="spacingAndGlyphs">1.64470</text>
<line x1="776" x2="778" y1="121.12" y2="121.12" stroke="#707070" stroke-width="0.8"/>
<text x="779.7" y="123.31800000000001" font-size="5.48" fill="#222" stroke="#222" stroke-width="0.22" text-anchor="start" textLength="17.8" lengthAdjust="spacingAndGlyphs">1.63650</text>
<line x1="776" x2="778" y1="139.47" y2="139.47" stroke="#707070" stroke-width="0.8"/>
<text x="779.7" y="141.671" font-size="5.48" fill="#222" stroke="#222" stroke-width="0.22" text-anchor="start" textLength="17.8" lengthAdjust="spacingAndGlyphs">1.62850</text>
<line x1="776" x2="778" y1="157.82" y2="157.82" stroke="#707070" stroke-width="0.8"/>
<text x="779.7" y="160.024" font-size="5.48" fill="#222" stroke="#222" stroke-width="0.22" text-anchor="start" textLength="17.8" lengthAdjust="spacingAndGlyphs">1.62030</text>
<line x1="776" x2="778" y1="176.18" y2="176.18" stroke="#707070" stroke-width="0.8"/>
<text x="779.7" y="178.377" font-size="5.48" fill="#222" stroke="#222" stroke-width="0.22" text-anchor="start" textLength="17.8" lengthAdjust="spacingAndGlyphs">1.61230</text>
<line x1="776" x2="778" y1="194.53" y2="194.53" stroke="#707070" stroke-width="0.8"/>
<text x="779.7" y="196.73000000000002" font-size="5.48" fill="#222" stroke="#222" stroke-width="0.22" text-anchor="start" textLength="17.8" lengthAdjust="spacingAndGlyphs">1.60430</text>
<line x1="776" x2="778" y1="212.88" y2="212.88" stroke="#707070" stroke-width="0.8"/>
<text x="779.7" y="215.083" font-size="5.48" fill="#222" stroke="#222" stroke-width="0.22" text-anchor="start" textLength="17.8" lengthAdjust="spacingAndGlyphs">1.59610</text>
<line x1="776" x2="778" y1="231.24" y2="231.24" stroke="#707070" stroke-width="0.8"/>
<text x="779.7" y="233.436" font-size="5.48" fill="#222" stroke="#222" stroke-width="0.22" text-anchor="start" textLength="17.8" lengthAdjust="spacingAndGlyphs">1.58810</text>
<line x1="776" x2="778" y1="249.59" y2="249.59" stroke="#707070" stroke-width="0.8"/>
<text x="779.7" y="251.78900000000002" font-size="5.48" fill="#222" stroke="#222" stroke-width="0.22" text-anchor="start" textLength="17.8" lengthAdjust="spacingAndGlyphs">1.57990</text>
<line x1="776" x2="778" y1="267.94" y2="267.94" stroke="#707070" stroke-width="0.8"/>
<text x="779.7" y="270.142" font-size="5.48" fill="#222" stroke="#222" stroke-width="0.22" text-anchor="start" textLength="17.8" lengthAdjust="spacingAndGlyphs">1.57190</text>
<line x1="776" x2="778" y1="286.30" y2="286.30" stroke="#707070" stroke-width="0.8"/>
<text x="779.7" y="288.495" font-size="5.48" fill="#222" stroke="#222" stroke-width="0.22" text-anchor="start" textLength="17.8" lengthAdjust="spacingAndGlyphs">1.56390</text>
<line x1="776" x2="778" y1="304.65" y2="304.65" stroke="#707070" stroke-width="0.8"/>
<text x="779.7" y="306.848" font-size="5.48" fill="#222" stroke="#222" stroke-width="0.22" text-anchor="start" textLength="17.8" lengthAdjust="spacingAndGlyphs">1.55570</text>
<line x1="776" x2="778" y1="323.00" y2="323.00" stroke="#707070" stroke-width="0.8"/>
<text x="779.7" y="325.201" font-size="5.48" fill="#222" stroke="#222" stroke-width="0.22" text-anchor="start" textLength="17.8" lengthAdjust="spacingAndGlyphs">1.54770</text>
<rect x="776.6" y="86.2" width="23.4" height="6.2" fill="#000"/>
<text x="779.7" y="91.5" font-size="5.48" fill="#fff" stroke="#fff" stroke-width="0.22" text-anchor="start" textLength="17.8" lengthAdjust="spacingAndGlyphs">1.65059</text>
<text x="779" y="331.9" font-size="5.48" fill="#222" stroke="#222" stroke-width="0.22" text-anchor="start" textLength="7.4" lengthAdjust="spacingAndGlyphs">100</text>
<text x="779" y="336.4" font-size="5.48" fill="#222" stroke="#222" stroke-width="0.22" text-anchor="start" textLength="5" lengthAdjust="spacingAndGlyphs">70</text>
<text x="779" y="346.4" font-size="5.48" fill="#222" stroke="#222" stroke-width="0.22" text-anchor="start" textLength="5" lengthAdjust="spacingAndGlyphs">30</text>
<text x="779" y="350.5" font-size="5.48" fill="#222" stroke="#222" stroke-width="0.22" text-anchor="start" textLength="2.5" lengthAdjust="spacingAndGlyphs">0</text>
<text x="778.4" y="359.7" font-size="5.48" fill="#222" stroke="#222" stroke-width="0.22" text-anchor="start" textLength="20.5" lengthAdjust="spacingAndGlyphs">282.6171</text>
<text x="778.4" y="371.5" font-size="5.48" fill="#222" stroke="#222" stroke-width="0.22" text-anchor="start" textLength="7.4" lengthAdjust="spacingAndGlyphs">100</text>
<text x="778.4" y="380" font-size="5.48" fill="#222" stroke="#222" stroke-width="0.22" text-anchor="start" textLength="9.6" lengthAdjust="spacingAndGlyphs">0.00</text>
<text x="778.4" y="387.8" font-size="5.48" fill="#222" stroke="#222" stroke-width="0.22" text-anchor="start" textLength="9.3" lengthAdjust="spacingAndGlyphs">-100</text>
<text x="778.4" y="392.2" font-size="5.48" fill="#222" stroke="#222" stroke-width="0.22" text-anchor="start" textLength="22" lengthAdjust="spacingAndGlyphs">-199.1243</text>
<text x="778.4" y="400" font-size="5.48" fill="#222" stroke="#222" stroke-width="0.22" text-anchor="start" textLength="7.4" lengthAdjust="spacingAndGlyphs">100</text>
<text x="778.4" y="403.8" font-size="5.48" fill="#222" stroke="#222" stroke-width="0.22" text-anchor="start" textLength="5" lengthAdjust="spacingAndGlyphs">80</text>
<text x="778.4" y="423.8" font-size="5.48" fill="#222" stroke="#222" stroke-width="0.22" text-anchor="start" textLength="5" lengthAdjust="spacingAndGlyphs">20</text>
<text x="778.4" y="427.5" font-size="5.48" fill="#222" stroke="#222" stroke-width="0.22" text-anchor="start" textLength="2.5" lengthAdjust="spacingAndGlyphs">0</text>
<path d="M3.6 5.0 L7.1 5.0 L5.35 7.5 Z" fill="#111"/>
<text x="10.2" y="8" font-size="5.48" fill="#222" stroke="#222" stroke-width="0.22" text-anchor="start" textLength="35.4" lengthAdjust="spacingAndGlyphs">GBPUSD,Daily</text>
<text x="49.7" y="8" font-size="5.48" fill="#222" stroke="#222" stroke-width="0.22" text-anchor="start" textLength="77.8" lengthAdjust="spacingAndGlyphs">1.65332 1.65670 1.64787 1.65059</text>
<text x="4.4" y="333.8" font-size="5.48" fill="#222" stroke="#222" stroke-width="0.22" text-anchor="start" textLength="37.5" lengthAdjust="spacingAndGlyphs">RSI(14) 35.1267</text>
<text x="4.4" y="361.7" font-size="5.48" fill="#222" stroke="#222" stroke-width="0.22" text-anchor="start" textLength="43.5" lengthAdjust="spacingAndGlyphs">CCI(14) -169.4278</text>
<text x="4.4" y="402.8" font-size="5.48" fill="#222" stroke="#222" stroke-width="0.22" text-anchor="start" textLength="67.5" lengthAdjust="spacingAndGlyphs">Stoch(5,3,3) 18.9707 29.4779</text>
<text x="4.4" y="427.6" font-size="5.48" fill="#222" stroke="#222" stroke-width="0.22" text-anchor="start" textLength="138" lengthAdjust="spacingAndGlyphs">MetaTrader FIX, &#169; 2001-2014, MetaQuotes Software Corp.</text>
<text x="73.7" y="34.5" font-size="12.3" fill="#e0143c" stroke="#e0143c" stroke-width="0.22" text-anchor="start" textLength="42.4" lengthAdjust="spacingAndGlyphs">Sunshine</text>
<text x="121.2" y="34.5" font-size="12.3" fill="#111" stroke="#111" stroke-width="0.22" text-anchor="start" textLength="55.5" lengthAdjust="spacingAndGlyphs">Profits.com</text>
<line x1="2.00" x2="2.00" y1="429.5" y2="431.5" stroke="#707070" stroke-width="0.9"/>
<text x="2.00" y="437.3" font-size="5.66" fill="#222" stroke="#222" stroke-width="0.22" text-anchor="start" textLength="25" lengthAdjust="spacingAndGlyphs">2 Sep 2013</text>
<line x1="37.64" x2="37.64" y1="429.5" y2="431.5" stroke="#707070" stroke-width="0.9"/>
<text x="37.64" y="437.3" font-size="5.66" fill="#222" stroke="#222" stroke-width="0.22" text-anchor="start" textLength="28" lengthAdjust="spacingAndGlyphs">11 Sep 2013</text>
<line x1="73.28" x2="73.28" y1="429.5" y2="431.5" stroke="#707070" stroke-width="0.9"/>
<text x="73.28" y="437.3" font-size="5.66" fill="#222" stroke="#222" stroke-width="0.22" text-anchor="start" textLength="28" lengthAdjust="spacingAndGlyphs">20 Sep 2013</text>
<line x1="108.92" x2="108.92" y1="429.5" y2="431.5" stroke="#707070" stroke-width="0.9"/>
<text x="108.92" y="437.3" font-size="5.66" fill="#222" stroke="#222" stroke-width="0.22" text-anchor="start" textLength="28" lengthAdjust="spacingAndGlyphs">30 Sep 2013</text>
<line x1="144.56" x2="144.56" y1="429.5" y2="431.5" stroke="#707070" stroke-width="0.9"/>
<text x="144.56" y="437.3" font-size="5.66" fill="#222" stroke="#222" stroke-width="0.22" text-anchor="start" textLength="25" lengthAdjust="spacingAndGlyphs">9 Oct 2013</text>
<line x1="180.20" x2="180.20" y1="429.5" y2="431.5" stroke="#707070" stroke-width="0.9"/>
<text x="180.20" y="437.3" font-size="5.66" fill="#222" stroke="#222" stroke-width="0.22" text-anchor="start" textLength="28" lengthAdjust="spacingAndGlyphs">18 Oct 2013</text>
<line x1="215.84" x2="215.84" y1="429.5" y2="431.5" stroke="#707070" stroke-width="0.9"/>
<text x="215.84" y="437.3" font-size="5.66" fill="#222" stroke="#222" stroke-width="0.22" text-anchor="start" textLength="28" lengthAdjust="spacingAndGlyphs">28 Oct 2013</text>
<line x1="251.48" x2="251.48" y1="429.5" y2="431.5" stroke="#707070" stroke-width="0.9"/>
<text x="251.48" y="437.3" font-size="5.66" fill="#222" stroke="#222" stroke-width="0.22" text-anchor="start" textLength="25" lengthAdjust="spacingAndGlyphs">6 Nov 2013</text>
<line x1="287.12" x2="287.12" y1="429.5" y2="431.5" stroke="#707070" stroke-width="0.9"/>
<text x="287.12" y="437.3" font-size="5.66" fill="#222" stroke="#222" stroke-width="0.22" text-anchor="start" textLength="28" lengthAdjust="spacingAndGlyphs">15 Nov 2013</text>
<line x1="322.76" x2="322.76" y1="429.5" y2="431.5" stroke="#707070" stroke-width="0.9"/>
<text x="322.76" y="437.3" font-size="5.66" fill="#222" stroke="#222" stroke-width="0.22" text-anchor="start" textLength="28" lengthAdjust="spacingAndGlyphs">25 Nov 2013</text>
<line x1="358.40" x2="358.40" y1="429.5" y2="431.5" stroke="#707070" stroke-width="0.9"/>
<text x="358.40" y="437.3" font-size="5.66" fill="#222" stroke="#222" stroke-width="0.22" text-anchor="start" textLength="25" lengthAdjust="spacingAndGlyphs">4 Dec 2013</text>
<line x1="394.04" x2="394.04" y1="429.5" y2="431.5" stroke="#707070" stroke-width="0.9"/>
<text x="394.04" y="437.3" font-size="5.66" fill="#222" stroke="#222" stroke-width="0.22" text-anchor="start" textLength="28" lengthAdjust="spacingAndGlyphs">13 Dec 2013</text>
<line x1="429.68" x2="429.68" y1="429.5" y2="431.5" stroke="#707070" stroke-width="0.9"/>
<text x="429.68" y="437.3" font-size="5.66" fill="#222" stroke="#222" stroke-width="0.22" text-anchor="start" textLength="28" lengthAdjust="spacingAndGlyphs">23 Dec 2013</text>
<line x1="465.32" x2="465.32" y1="429.5" y2="431.5" stroke="#707070" stroke-width="0.9"/>
<text x="465.32" y="437.3" font-size="5.66" fill="#222" stroke="#222" stroke-width="0.22" text-anchor="start" textLength="25" lengthAdjust="spacingAndGlyphs">1 Jan 2014</text>
<line x1="500.96" x2="500.96" y1="429.5" y2="431.5" stroke="#707070" stroke-width="0.9"/>
<text x="500.96" y="437.3" font-size="5.66" fill="#222" stroke="#222" stroke-width="0.22" text-anchor="start" textLength="28" lengthAdjust="spacingAndGlyphs">10 Jan 2014</text>
<line x1="536.60" x2="536.60" y1="429.5" y2="431.5" stroke="#707070" stroke-width="0.9"/>
<text x="536.60" y="437.3" font-size="5.66" fill="#222" stroke="#222" stroke-width="0.22" text-anchor="start" textLength="28" lengthAdjust="spacingAndGlyphs">20 Jan 2014</text>
<line x1="572.24" x2="572.24" y1="429.5" y2="431.5" stroke="#707070" stroke-width="0.9"/>
<text x="572.24" y="437.3" font-size="5.66" fill="#222" stroke="#222" stroke-width="0.22" text-anchor="start" textLength="28" lengthAdjust="spacingAndGlyphs">29 Jan 2014</text>
<line x1="607.88" x2="607.88" y1="429.5" y2="431.5" stroke="#707070" stroke-width="0.9"/>
<text x="607.88" y="437.3" font-size="5.66" fill="#222" stroke="#222" stroke-width="0.22" text-anchor="start" textLength="25" lengthAdjust="spacingAndGlyphs">7 Feb 2014</text>
<line x1="643.52" x2="643.52" y1="429.5" y2="431.5" stroke="#707070" stroke-width="0.9"/>
<text x="643.52" y="437.3" font-size="5.66" fill="#222" stroke="#222" stroke-width="0.22" text-anchor="start" textLength="28" lengthAdjust="spacingAndGlyphs">17 Feb 2014</text>
<line x1="679.16" x2="679.16" y1="429.5" y2="431.5" stroke="#707070" stroke-width="0.9"/>
<text x="679.16" y="437.3" font-size="5.66" fill="#222" stroke="#222" stroke-width="0.22" text-anchor="start" textLength="28" lengthAdjust="spacingAndGlyphs">26 Feb 2014</text>
<line x1="714.80" x2="714.80" y1="429.5" y2="431.5" stroke="#707070" stroke-width="0.9"/>
<text x="714.80" y="437.3" font-size="5.66" fill="#222" stroke="#222" stroke-width="0.22" text-anchor="start" textLength="25" lengthAdjust="spacingAndGlyphs">7 Mar 2014</text>
<line x1="750.44" x2="750.44" y1="429.5" y2="431.5" stroke="#707070" stroke-width="0.9"/>
<text x="750.44" y="437.3" font-size="5.66" fill="#222" stroke="#222" stroke-width="0.22" text-anchor="start" textLength="28" lengthAdjust="spacingAndGlyphs">17 Mar 2014</text>
</svg></body></html>
